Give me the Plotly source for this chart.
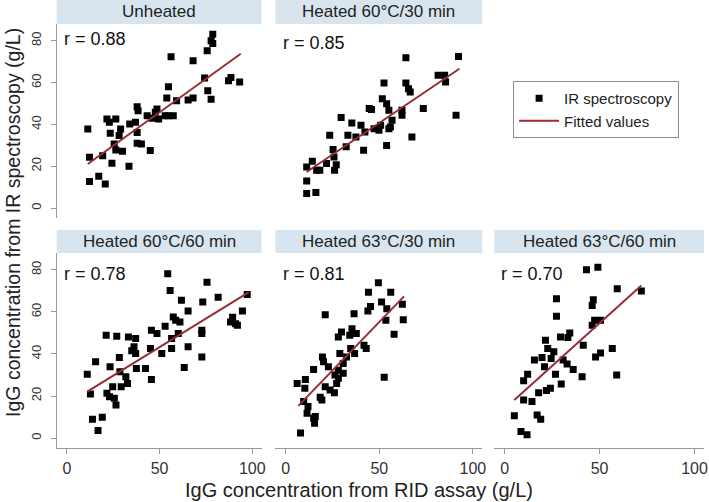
import plotly.graph_objects as go

# Donnees (x = RID, y = IR), par panneau
titres = ["Unheated", "Heated 60°C/30 min", "Heated 60°C/60 min",
          "Heated 63°C/30 min", "Heated 63°C/60 min"]
r_valeurs = ["r = 0.88", "r = 0.85", "r = 0.78", "r = 0.81", "r = 0.70"]

x_unheated = [11.3, 12.2, 12.2, 17.2, 20.7, 21.6, 22.9, 26.4, 23.4, 24.3, 25.5, 26.4, 30.0, 29.0,
              19.3, 33.5, 33.9, 37.0, 37.9, 38.4, 37.9, 37.9, 40.2, 45.0, 43.3, 46.0, 48.6, 49.5,
              53.0, 54.8, 57.4, 53.9, 54.8, 56.2, 59.2, 65.4, 68.1, 68.1, 74.3, 76.0, 77.8, 75.7,
              77.8, 78.7, 78.7, 87.2, 88.5, 93.2, 28.2, 47.7]
y_unheated = [37.8, 24.3, 12.7, 15.3, 11.6, 42.6, 41.0, 42.6, 35.8, 21.5, 30.7, 27.8, 27.2, 37.8,
              25.1, 20.0, 40.2, 41.0, 48.5, 46.6, 36.2, 31.0, 30.7, 27.5, 44.2, 43.0, 47.4, 42.6,
              44.2, 44.2, 44.2, 52.6, 58.0, 72.3, 51.3, 51.7, 52.6, 70.4, 62.2, 56.1, 52.1, 75.2,
              80.0, 83.1, 78.7, 60.9, 62.4, 60.3, 34.7, 45.8]

x_60_30 = [11.2, 16.1, 11.2, 11.2, 14.2, 16.5, 18.2, 21.8, 26.1, 27.0, 25.8, 25.3, 23.5, 29.6,
           32.3, 33.2, 35.3, 37.5, 40.2, 41.6, 42.3, 44.6, 45.8, 47.2, 49.8, 50.7, 51.6, 52.5,
           53.9, 53.9, 55.1, 55.1, 56.8, 55.9, 62.1, 62.1, 64.2, 64.2, 65.6, 66.5, 67.4, 73.5,
           81.4, 84.9, 85.4, 91.0, 92.3]
y_60_30 = [7.0, 7.5, 13.0, 19.7, 22.4, 18.1, 18.1, 21.3, 18.1, 20.8, 24.5, 28.0, 34.8, 43.3,
           29.4, 34.8, 40.7, 34.0, 39.6, 27.7, 36.4, 47.6, 47.2, 38.0, 37.2, 39.6, 52.3, 59.8,
           30.0, 49.9, 46.8, 38.0, 42.0, 38.8, 44.4, 46.8, 71.9, 59.8, 57.1, 55.5, 34.0, 47.6,
           63.5, 63.5, 60.3, 44.4, 72.5]

x_60_60 = [11.0, 12.7, 15.5, 13.8, 19.1, 16.8, 21.2, 21.6, 23.3, 23.0, 24.7, 25.6, 26.5, 26.9,
           28.3, 28.6, 29.3, 31.8, 32.7, 33.2, 35.0, 36.2, 37.1, 37.1, 37.5, 42.4, 45.6, 45.1,
           45.6, 48.6, 51.2, 53.0, 54.4, 55.7, 56.5, 56.5, 57.4, 58.7, 60.1, 61.0, 61.8, 63.3,
           65.4, 65.4, 72.8, 72.8, 72.8, 73.3, 75.6, 81.6, 88.3, 91.0, 97.3, 94.7, 89.4, 92.0]
y_60_60 = [30.4, 21.0, 36.3, 9.0, 9.9, 3.6, 48.9, 21.3, 33.9, 19.7, 24.4, 18.9, 15.8, 48.4,
           38.3, 31.5, 24.4, 29.2, 26.0, 48.1, 41.5, 43.4, 47.3, 40.2, 33.1, 33.1, 27.9, 42.6,
           51.3, 49.7, 40.2, 53.2, 78.1, 70.2, 47.3, 42.6, 57.6, 56.0, 49.7, 55.2, 65.5, 33.6,
           43.4, 60.4, 38.6, 49.7, 51.3, 64.7, 74.1, 67.0, 55.2, 54.4, 68.3, 60.4, 57.5, 53.6]

x_63_30 = [6.1, 10.5, 10.2, 7.9, 9.6, 11.9, 11.4, 14.9, 15.4, 15.8, 14.9, 18.4, 19.3, 19.6,
           20.2, 21.1, 21.1, 22.8, 23.7, 26.0, 26.3, 27.2, 28.1, 28.1, 28.9, 28.1, 29.8, 30.7,
           30.7, 32.5, 34.2, 34.7, 35.4, 36.5, 36.8, 37.7, 41.8, 43.0, 43.9, 44.2, 45.3, 49.5,
           51.2, 52.6, 53.5, 54.0, 56.1, 57.9, 62.3, 62.8]
y_63_30 = [26.0, 27.9, 23.7, 2.4, 17.4, 15.0, 11.8, 9.5, 7.1, 10.3, 32.6, 19.4, 18.1, 38.6,
           36.3, 58.7, 24.4, 33.9, 22.9, 21.6, 30.0, 26.0, 28.4, 32.3, 40.2, 48.1, 50.5, 30.8,
           35.5, 38.6, 48.9, 42.6, 52.0, 59.1, 40.2, 49.7, 44.2, 42.6, 60.4, 69.4, 62.6, 73.8,
           64.7, 28.9, 56.0, 61.5, 69.4, 49.4, 63.6, 56.3]

x_63_60 = [5.1, 8.6, 11.8, 10.0, 10.0, 12.1, 14.4, 17.1, 19.0, 15.7, 17.9, 19.7, 21.0, 21.5,
           22.0, 22.7, 24.1, 24.5, 25.9, 26.8, 27.3, 27.3, 29.4, 29.8, 30.8, 32.9, 34.3, 33.3,
           36.1, 40.8, 41.4, 43.1, 46.1, 46.1, 46.7, 47.4, 47.9, 49.1, 50.5, 50.5, 56.7, 59.0,
           59.3, 72.0]
y_63_60 = [10.6, 3.2, 1.6, 18.1, 27.3, 30.4, 17.4, 11.0, 9.0, 37.1, 21.6, 38.3, 33.9, 46.5,
           22.6, 42.6, 23.7, 37.9, 41.0, 30.4, 57.9, 66.2, 48.1, 25.7, 37.1, 35.2, 50.0, 47.8,
           32.6, 29.2, 44.2, 80.0, 53.6, 63.1, 65.8, 56.0, 38.6, 81.2, 40.5, 56.0, 42.6, 30.0,
           71.0, 69.9]

# Droites ajustees (extremites)
fit_x = [[11.3, 93.8], [11.2, 92.8], [11.0, 98.2], [6.7, 63.2], [5.1, 72.0]]
fit_y = [[21.1, 73.8], [17.3, 66.6], [22.1, 69.4], [15.3, 67.4], [18.1, 72.6]]

series_x = [x_unheated, x_60_30, x_60_60, x_63_30, x_63_60]
series_y = [y_unheated, y_60_30, y_60_60, y_63_30, y_63_60]

W, H = 709, 502
# (gauche, droite) en pixels pour chaque colonne, (haut, bas) pour chaque rangee
colonnes = [(57, 263), (277, 485), (497, 708)]
rangees = [(24, 218), (253, 448)]
bandeaux = [(0, 24), (230, 253)]
positions = [(0, 0), (0, 1), (1, 0), (1, 1), (1, 2)]
hauteur_r = [81, 79, 78, 78, 78]  # position verticale du texte "r = ..."

police = "Arial, Liberation Sans, sans-serif"
rouge = "#962d35"
gris_axe = "#9a9a9a"

fig = go.Figure()
layout_axes = {}
shapes = []
annotations = []

for i, (rang, col) in enumerate(positions):
    n = i + 1
    suffixe = "" if n == 1 else str(n)
    xa, ya = f"x{suffixe}", f"y{suffixe}"
    fig.add_trace(go.Scatter(
        x=series_x[i], y=series_y[i], mode="markers", xaxis=xa, yaxis=ya,
        marker={"symbol": "square", "size": 7, "color": "black"},
        name="IR spectroscopy", showlegend=(n == 1), legendrank=1,
    ))
    fig.add_trace(go.Scatter(
        x=fit_x[i], y=fit_y[i], mode="lines", xaxis=xa, yaxis=ya,
        line={"color": rouge, "width": 2},
        name="Fitted values", showlegend=(n == 1), legendrank=2,
    ))

    g, d = colonnes[col]
    h, b = rangees[rang]
    axe_x = {
        "domain": [g / W, d / W], "range": [-5.5, 105], "anchor": ya,
        "showgrid": False, "zeroline": False,
    }
    if rang == 1:
        axe_x.update({
            "showline": True, "linecolor": gris_axe, "linewidth": 1,
            "ticks": "outside", "ticklen": 5, "tickcolor": gris_axe,
            "tickvals": [0, 50, 100], "ticklabelstandoff": 1,
            "tickfont": {"size": 16, "color": "#333333"},
        })
    else:
        axe_x.update({"showline": False, "showticklabels": False, "ticks": ""})
    axe_y = {
        "domain": [1 - b / H, 1 - h / H], "range": [-4.7, 88], "anchor": xa,
        "showgrid": False, "zeroline": False,
    }
    if col == 0:
        axe_y.update({
            "showline": True, "linecolor": gris_axe, "linewidth": 1,
            "ticks": "outside", "ticklen": 5, "tickcolor": gris_axe,
            "tickvals": [0, 20, 40, 60, 80], "tickangle": -90, "ticklabelstandoff": 4,
            "tickfont": {"size": 13, "color": "#333333"},
        })
    else:
        axe_y.update({"showline": False, "showticklabels": False, "ticks": ""})
    layout_axes["xaxis" + suffixe] = axe_x
    layout_axes["yaxis" + suffixe] = axe_y

    bh, bb = bandeaux[rang]
    shapes.append({
        "type": "rect", "xref": "paper", "yref": "paper",
        "x0": g / W, "x1": d / W, "y0": 1 - bb / H, "y1": 1 - bh / H,
        "fillcolor": "#d8e5ee", "line": {"width": 0}, "layer": "below",
    })
    annotations.append({
        "text": titres[i], "xref": "paper", "yref": "paper",
        "x": (g + d) / 2 / W, "y": 1 - (bh + bb) / 2 / H,
        "xanchor": "center", "yanchor": "middle",
        "showarrow": False, "font": {"size": 17, "color": "#222222"},
    })
    annotations.append({
        "text": r_valeurs[i], "xref": f"{xa} domain", "yref": ya,
        "x": 0.025, "y": hauteur_r[i], "xanchor": "left", "yanchor": "middle",
        "showarrow": False, "font": {"size": 18, "color": "#111111"},
    })

annotations.append({
    "text": "IgG concentration from IR spectroscopy (g/L)", "xref": "paper", "yref": "paper",
    "x": 13 / W, "y": 1 - 222 / H, "xanchor": "center", "yanchor": "middle",
    "textangle": -90, "showarrow": False,
    "font": {"size": 19.5, "color": "#222222"},
})
annotations.append({
    "text": "IgG concentration from RID assay (g/L)", "xref": "paper", "yref": "paper",
    "x": 361 / W, "y": 1 - 490 / H, "xanchor": "center", "yanchor": "middle",
    "showarrow": False,
    "font": {"size": 20, "color": "#222222"},
})

fig.update_layout(
    width=W, height=H,
    margin={"l": 0, "r": 0, "t": 0, "b": 0},
    paper_bgcolor="white", plot_bgcolor="white",
    font={"family": police, "color": "#222222"},
    shapes=shapes, annotations=annotations,
    legend={
        "x": 516 / W, "y": 1 - 81 / H, "xanchor": "left", "yanchor": "top",
        "bordercolor": "#8c8c8c", "borderwidth": 1, "bgcolor": "white",
        "font": {"size": 15, "color": "#222222"}, "itemwidth": 40,
        "tracegroupgap": 0,
    },
    **layout_axes,
)

# la page a une marge de 8 px par defaut : on la retire
fig.write_html("out.html", config={"displayModeBar": False},
               post_script="document.body.style.margin='0';")
